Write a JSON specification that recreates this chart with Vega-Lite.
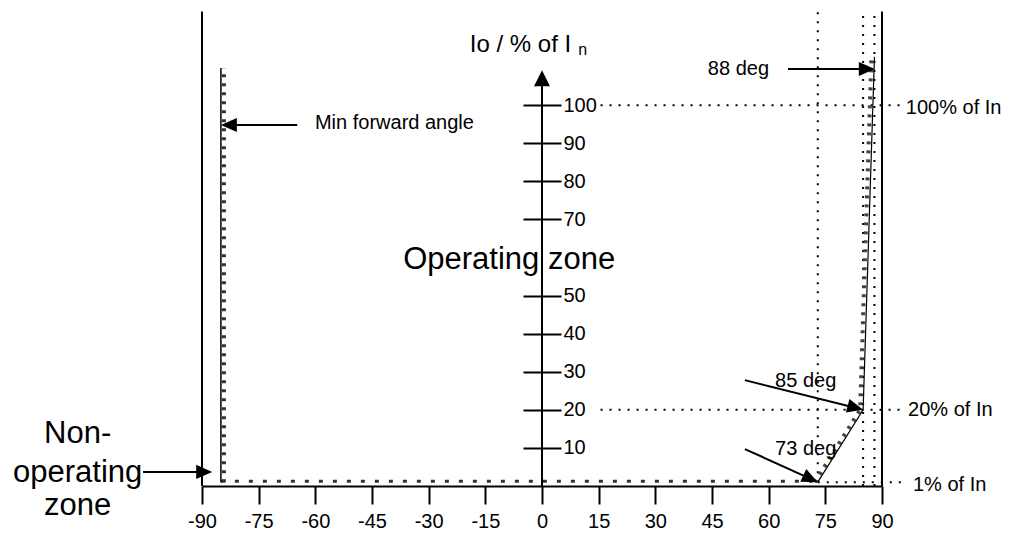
{
  "$schema": "https://vega.github.io/schema/vega-lite/v6.json",
  "width": 680,
  "height": 476,
  "autosize": {"type": "none"},
  "padding": {"left": 202, "top": 10, "right": 131, "bottom": 48},
  "background": "white",
  "config": {"view": {"stroke": null}, "font": "Liberation Sans"},
  "encoding": {
    "x": {"field": "x", "type": "quantitative", "scale": {"domain": [-90, 90], "nice": false, "zero": false},
      "axis": {"orient": "bottom", "values": [-90, -75, -60, -45, -30, -15, 0, 15, 30, 45, 60, 75, 90], "title": null, "grid": false,
        "domainColor": "black", "domainWidth": 2, "tickColor": "black", "tickWidth": 2, "tickSize": 18,
        "labelFontSize": 20, "labelFont": "Liberation Sans", "labelColor": "black", "labelPadding": 7,
        "labelFlush": false, "labelOverlap": false, "labelExpr": "'' + datum.value"}},
    "y": {"field": "y", "type": "quantitative", "scale": {"domain": [0, 125], "nice": false, "zero": false},
      "axis": {"orient": "right", "offset": -359, "values": [10, 20, 30, 40, 50, 70, 80, 90, 100], "title": null, "grid": false,
        "domain": false, "tickColor": "black", "tickWidth": 2, "tickSize": 38,
        "labelFontSize": 20, "labelFont": "Liberation Sans", "labelColor": "black", "labelPadding": 2,
        "labelBaseline": "middle", "labelFlush": false, "labelOverlap": false}}
  },
  "layer": [
    {
      "data": {"values": [
        {"x": 15.5, "y": 100, "x2": 94.8, "y2": 100},
        {"x": 15.5, "y": 20, "x2": 94.8, "y2": 20},
        {"x": 73, "y": 1, "x2": 95.5, "y2": 1},
        {"x": 73, "y": 1, "x2": 73, "y2": 124.6},
        {"x": 85, "y": 0, "x2": 85, "y2": 124.6},
        {"x": 88, "y": 0, "x2": 88, "y2": 124.6}
      ]},
      "mark": {"type": "rule", "color": "black", "strokeWidth": 2, "strokeDash": [2, 7]},
      "encoding": {"x2": {"field": "x2"}, "y2": {"field": "y2"}}
    },
    {
      "data": {"values": [{"x": -85, "y": 1}, {"x": -85, "y": 109.8}]},
      "mark": {"type": "line", "color": "#333", "strokeWidth": 4, "strokeDash": [3, 6], "xOffset": 3}
    },
    {
      "data": {"values": [{"x": -85, "y": 1}, {"x": 73, "y": 1}]},
      "mark": {"type": "line", "color": "#333", "strokeWidth": 3, "strokeDash": [4, 10], "yOffset": -1}
    },
    {
      "data": {"values": [{"x": 73, "y": 1}, {"x": 85, "y": 20}, {"x": 88, "y": 112.7}]},
      "mark": {"type": "line", "color": "#444", "strokeWidth": 4, "strokeDash": [3, 6], "xOffset": -3}
    },
    {
      "data": {"values": [{"x": -85, "y": 1}, {"x": -85, "y": 109.8}]},
      "mark": {"type": "line", "color": "black", "strokeWidth": 1.5}
    },
    {
      "data": {"values": [{"x": 73, "y": 1}, {"x": 85, "y": 20}, {"x": 88, "y": 112.7}]},
      "mark": {"type": "line", "color": "black", "strokeWidth": 1.2}
    },
    {
      "data": {"values": [
        {"x": -90, "y": 0, "x2": -90, "y2": 124.6},
        {"x": 90, "y": 0, "x2": 90, "y2": 124.6},
        {"x": 0, "y": 0, "x2": 0, "y2": 106},
        {"x": -64.8, "y": 94.8, "x2": -82, "y2": 94.8},
        {"x": 65.1, "y": 109.5, "x2": 86, "y2": 109.5},
        {"x": -105.6, "y": 3.7, "x2": -89, "y2": 3.7},
        {"x": 53.7, "y": 27.8, "x2": 84, "y2": 20.3},
        {"x": 53.7, "y": 9.7, "x2": 72, "y2": 1.5}
      ]},
      "mark": {"type": "rule", "color": "black", "strokeWidth": 2},
      "encoding": {"x2": {"field": "x2"}, "y2": {"field": "y2"}}
    },
    {
      "data": {"values": [{"x": 88.1, "y": 109.5}, {"x": -87.3, "y": 3.7}]},
      "mark": {"type": "point", "shape": "M0,0L-1,-0.44L-1,0.44Z", "size": 1024, "filled": true, "color": "black", "opacity": 1, "strokeWidth": 0}
    },
    {
      "data": {"values": [{"x": -85, "y": 94.8}]},
      "mark": {"type": "point", "shape": "M0,0L-1,-0.44L-1,0.44Z", "size": 1024, "angle": 180, "filled": true, "color": "black", "opacity": 1, "strokeWidth": 0}
    },
    {
      "data": {"values": [{"x": 0, "y": 109.2}]},
      "mark": {"type": "point", "shape": "M0,0L-1,-0.5L-1,0.5Z", "size": 1024, "angle": 270, "filled": true, "color": "black", "opacity": 1, "strokeWidth": 0}
    },
    {
      "data": {"values": [{"x": 85, "y": 20}]},
      "mark": {"type": "point", "shape": "M0,0L-1,-0.44L-1,0.44Z", "size": 1024, "angle": 15, "filled": true, "color": "black", "opacity": 1, "strokeWidth": 0}
    },
    {
      "data": {"values": [{"x": 73, "y": 1}]},
      "mark": {"type": "point", "shape": "M0,0L-1,-0.44L-1,0.44Z", "size": 1024, "angle": 25, "filled": true, "color": "black", "opacity": 1, "strokeWidth": 0}
    },
    {
      "data": {"values": [
        {"x": -60.1, "y": 93.75, "label": "Min forward angle"},
        {"x": 43.9, "y": 107.9, "label": "88 deg"},
        {"x": 96.3, "y": 97.7, "label": "100% of In"},
        {"x": 96.9, "y": 18.4, "label": "20% of In"},
        {"x": 98.2, "y": -1.2, "label": "1% of In"},
        {"x": 61.7, "y": 26.0, "label": "85 deg"},
        {"x": 61.7, "y": 8.1, "label": "73 deg"}
      ]},
      "mark": {"type": "text", "align": "left", "baseline": "alphabetic", "fontSize": 20, "color": "black", "font": "Liberation Sans"},
      "encoding": {"text": {"field": "label"}}
    },
    {
      "data": {"values": [{"x": -19.1, "y": 114.0, "label": "Io / % of I"}]},
      "mark": {"type": "text", "align": "left", "baseline": "alphabetic", "fontSize": 24, "color": "black", "font": "Liberation Sans"},
      "encoding": {"text": {"field": "label"}}
    },
    {
      "data": {"values": [{"x": 9.6, "y": 113.2, "label": "n"}]},
      "mark": {"type": "text", "align": "left", "baseline": "alphabetic", "fontSize": 16, "color": "black", "font": "Liberation Sans"},
      "encoding": {"text": {"field": "label"}}
    },
    {
      "data": {"values": [
        {"x": -8.7, "y": 57.0, "label": "Operating zone"},
        {"x": -122.9, "y": 11.2, "label": "Non-"},
        {"x": -122.9, "y": 1.13, "label": "operating"},
        {"x": -122.9, "y": -7.6, "label": "zone"}
      ]},
      "mark": {"type": "text", "align": "center", "baseline": "alphabetic", "fontSize": 31, "color": "black", "font": "Liberation Sans"},
      "encoding": {"text": {"field": "label"}}
    }
  ]
}
